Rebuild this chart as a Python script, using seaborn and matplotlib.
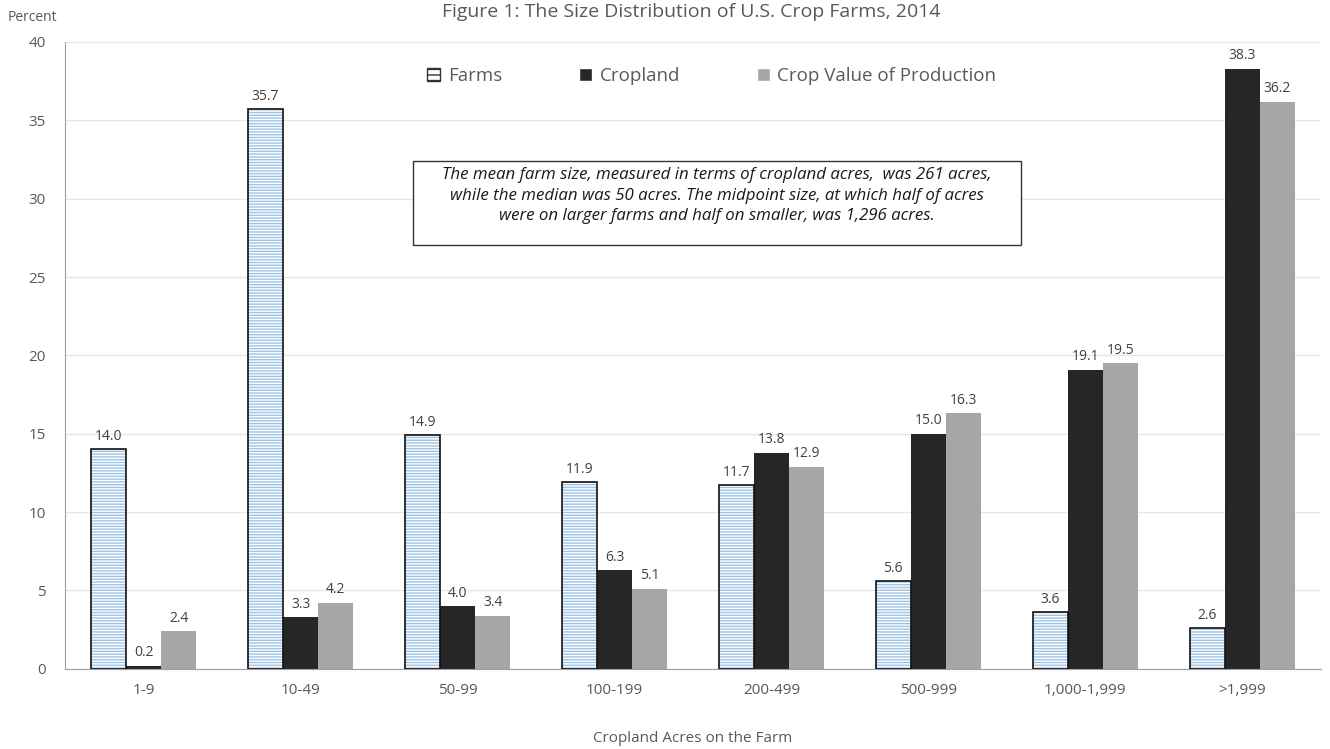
import pandas as pd
import matplotlib
matplotlib.use('Agg')
import matplotlib.pyplot as plt
import seaborn as sns
from matplotlib.patches import Patch, Rectangle

categories = ['1-9', '10-49', '50-99', '100-199', '200-499', '500-999', '1,000-1,999', '>1,999']
series = ['Farms', 'Cropland', 'Crop Value of Production']
farms = [14.0, 35.7, 14.9, 11.9, 11.7, 5.6, 3.6, 2.6]
cropland = [0.2, 3.3, 4.0, 6.3, 13.8, 15.0, 19.1, 38.3]
crop_value = [2.4, 4.2, 3.4, 5.1, 12.9, 16.3, 19.5, 36.2]

data = pd.DataFrame({
    'size': categories * 3,
    'series': [series[0]] * 8 + [series[1]] * 8 + [series[2]] * 8,
    'pct': farms + cropland + crop_value,
})

sns.set_style('white')
plt.rcParams['font.family'] = ['Open Sans', 'DejaVu Sans']
plt.rcParams['hatch.linewidth'] = 1.0

txt = '#595959'
fig = plt.figure(figsize=(13.3, 7.49), dpi=100)
ax = fig.add_axes([0.049, 0.107, 0.944, 0.837])

colors = ['white', '#262626', '#a6a6a6']
sns.barplot(data=data, x='size', y='pct', hue='series', palette=colors,
            width=0.67, gap=0, saturation=1, ax=ax, legend=False)

# Farms bars: light blue horizontal hatch, black outline
for bar in ax.containers[0]:
    bar.set_hatch('------')
    bar.set_edgecolor('#9dc3e6')
    bar.set_linewidth(0)
    outline = Rectangle(bar.get_xy(), bar.get_width(), bar.get_height(),
                        fill=False, edgecolor='#111111', linewidth=1.2, zorder=3)
    ax.add_patch(outline)
for c in ax.containers[1:]:
    for bar in c:
        bar.set_linewidth(0)

for c in ax.containers:
    ax.bar_label(c, fmt='%.1f', padding=4, fontsize=10, color='#404040')

ax.set_ylim(0, 40)
ax.set_xlim(-0.5, 7.5)
ax.set_yticks(range(0, 41, 5))
ax.yaxis.grid(True, color='#e6e6e6', linewidth=1)
ax.set_axisbelow(True)
for s in ['top', 'right']:
    ax.spines[s].set_visible(False)
for s in ['left', 'bottom']:
    ax.spines[s].set_color('#a0a0a0')
ax.tick_params(axis='both', labelsize=11, colors=txt, length=0, pad=10)
ax.tick_params(axis='y', pad=14)
ax.set_ylabel('')
ax.set_xlabel('Cropland Acres on the Farm', fontsize=11, color=txt, labelpad=24)

fig.text(0.006, 0.977, 'Percent', fontsize=10, color=txt, va='center')
fig.text(0.52, 0.984, 'Figure 1: The Size Distribution of U.S. Crop Farms, 2014',
         fontsize=14, color=txt, ha='center', va='center')

# legend
handles = [Patch(facecolor='white', edgecolor='#333333', hatch='---'),
           Patch(facecolor=colors[1]), Patch(facecolor=colors[2])]
ax.legend(handles, series, loc='center', bbox_to_anchor=(0.515, 0.945), ncol=3, frameon=False,
          fontsize=13.5, labelcolor=txt, handlelength=0.7, handleheight=0.7,
          handletextpad=0.4, columnspacing=4.1)

# note box
ax.add_patch(Rectangle((0.277, 0.676), 0.484, 0.134, transform=ax.transAxes,
                       facecolor='white', edgecolor='#333333', linewidth=1, zorder=4))
note = ('The mean farm size, measured in terms of cropland acres,  was 261 acres,\n'
        'while the median was 50 acres. The midpoint size, at which half of acres\n'
        'were on larger farms and half on smaller, was 1,296 acres.')
ax.text(0.519, 0.755, note, transform=ax.transAxes, ha='center', va='center',
        fontsize=12.2, style='italic', color='#1a1a1a', linespacing=1.35, zorder=5)

fig.savefig('out.png', dpi=100)
